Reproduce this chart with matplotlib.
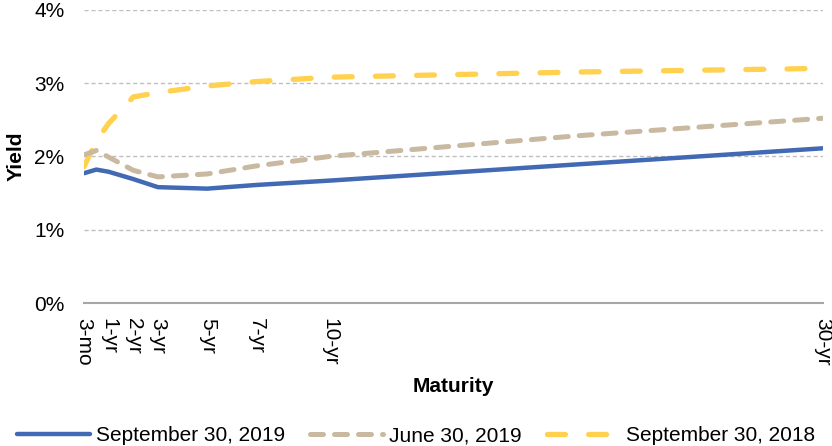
import matplotlib.pyplot as plt

plt.rcParams['font.family'] = ['Liberation Sans', 'DejaVu Sans']

# maturity positions (years, first point plotted at the axis start)
maturity = [0, 0.5, 1, 2, 3, 5, 7, 10, 20, 30]
tick_pos = [0, 1, 2, 3, 5, 7, 10, 30]
tick_labels = ['3-mo', '1-yr', '2-yr', '3-yr', '5-yr', '7-yr', '10-yr', '30-yr']

sep_2019 = [1.77, 1.82, 1.79, 1.69, 1.58, 1.56, 1.61, 1.67, 1.89, 2.11]
jun_2019 = [2.02, 2.08, 1.99, 1.81, 1.72, 1.76, 1.87, 2.00, 2.28, 2.52]
sep_2018 = [1.86, 2.21, 2.45, 2.81, 2.87, 2.96, 3.02, 3.08, 3.15, 3.20]

fig = plt.figure(figsize=(8.32, 4.46), dpi=100)
ax = fig.add_axes([0.101, 0.3206, 0.888, 0.6576])

ax.plot(maturity, sep_2019, color='#4169B4', lw=3.2, solid_capstyle='round',
        label='September 30, 2019', zorder=4)
ax.plot(maturity, jun_2019, color='#C9B9A0', lw=3.6, dashes=(2.6, 2.2),
        dash_capstyle='round', label='June 30, 2019', zorder=3)
ax.plot(maturity, sep_2018, color='#FFD14F', lw=3.8, dashes=(3.4, 4.4),
        dash_capstyle='round', label='September 30, 2018', zorder=2)

ax.set_xlim(0, 30)
ax.set_ylim(0, 4)
ax.set_yticks([0, 1, 2, 3, 4])
ax.set_yticklabels(['0%', '1%', '2%', '3%', '4%'], fontsize=15)
ax.set_xticks(tick_pos)
ax.set_xticklabels(tick_labels, rotation=-90, fontsize=15, va='top', ha='center')
ax.tick_params(length=0)
ax.tick_params(axis='x', pad=11)
ax.tick_params(axis='y', pad=14)

ax.grid(axis='y', color='#BFBFBF', ls=(0, (3, 2)), lw=1)
for s in ['top', 'right', 'left']:
    ax.spines[s].set_visible(False)
ax.spines['bottom'].set_color('#A6A6A6')
ax.spines['bottom'].set_linewidth(1.5)
ax.set_axisbelow(True)

ax.set_ylabel('Yield', fontsize=15, fontweight='bold', labelpad=6)
ax.set_xlabel('Maturity', fontsize=15, fontweight='bold', labelpad=8)

fig.legend(loc='lower center', bbox_to_anchor=(0.5, -0.04), ncol=3, frameon=False,
           fontsize=15, handlelength=3.5, columnspacing=1.2, handletextpad=0.3)

fig.savefig('out.png', dpi=100)
